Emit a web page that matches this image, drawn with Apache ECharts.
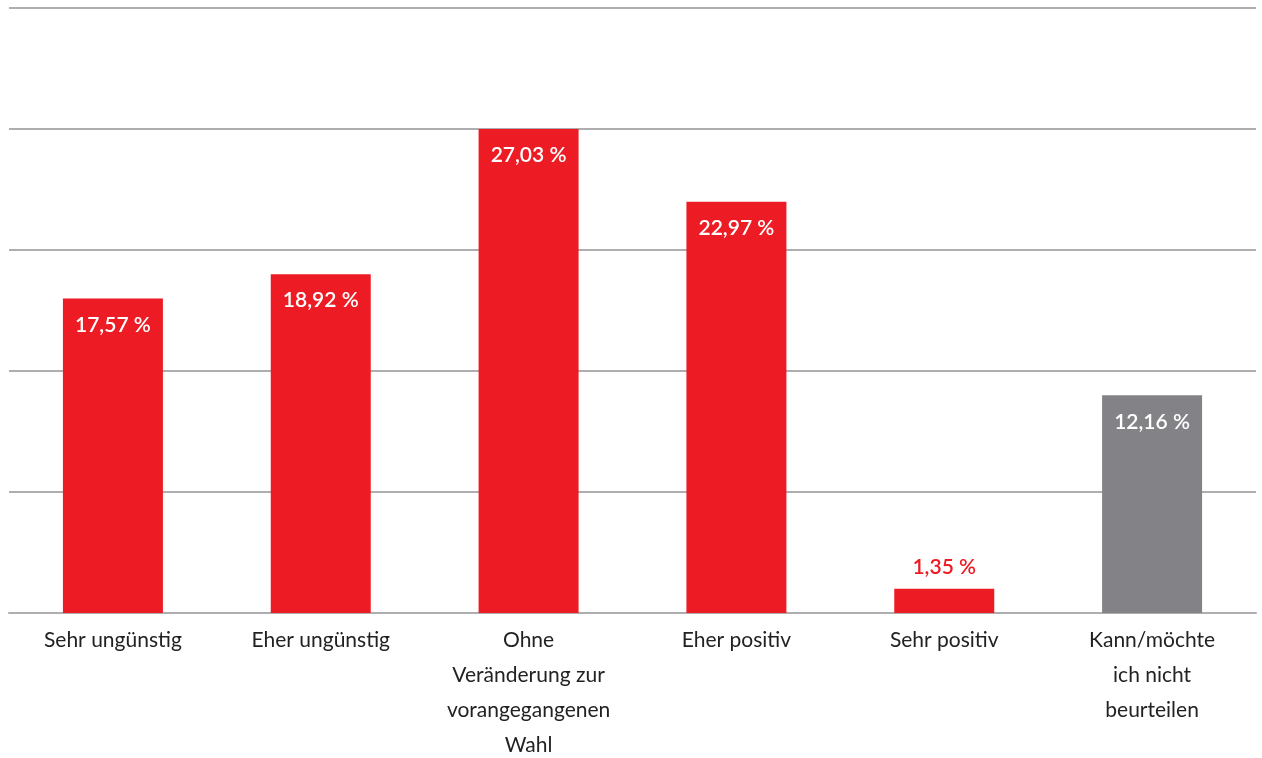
<!DOCTYPE html>
<html>
<head>
<meta charset="utf-8">
<style>
  html, body { margin: 0; padding: 0; background: #fff; }
  #chart { width: 1262px; height: 758px; }
</style>
<script src="https://cdn.jsdelivr.net/npm/echarts@6/dist/echarts.min.js"></script>
</head>
<body>
<div id="chart"></div>
<script>
const categories = [
  'Sehr ungünstig',
  'Eher ungünstig',
  'Ohne\nVeränderung zur\nvorangegangenen\nWahl',
  'Eher positiv',
  'Sehr positiv',
  'Kann/möchte\nich nicht\nbeurteilen'
]
const values = [17.57, 18.92, 27.03, 22.97, 1.35, 12.16]
// the last category ("cannot judge") is drawn in grey
const neutralIndex = 5

const axisMax = 33.7875
const axisStep = 6.7575

const RED = '#ed1c24'
const GREY = '#838387'
const LINE = '#aeaeb1'
const FONT = 'Lato, "Open Sans", sans-serif'

const fmt = v => v.toFixed(2).replace('.', ',') + ' %'

const chart = echarts.init(document.getElementById('chart'))

chart.setOption({
  animation: false,
  grid: { left: 9, right: 6, top: 8, bottom: 145, containLabel: false, outerBoundsMode: 'none' },
  xAxis: {
    type: 'category',
    data: categories,
    axisTick: { show: false },
    axisLine: { lineStyle: { color: LINE, width: 2 } },
    axisLabel: {
      interval: 0,
      margin: 10,
      color: '#222',
      fontFamily: FONT,
      fontSize: 21,
      lineHeight: 35
    }
  },
  yAxis: {
    type: 'value',
    min: 0,
    max: axisMax,
    interval: axisStep,
    axisLabel: { show: false },
    axisLine: { show: false },
    axisTick: { show: false },
    splitLine: { lineStyle: { color: LINE, width: 2 } }
  },
  series: [{
    type: 'bar',
    barWidth: 100,
    data: values.map((v, i) => {
      const small = v < 5
      return {
        value: v,
        itemStyle: { color: i === neutralIndex ? GREY : RED },
        label: {
          show: true,
          position: small ? 'top' : 'insideTop',
          distance: small ? 11 : 16,
          color: small ? RED : '#fff',
          fontFamily: FONT,
          fontSize: 21,
          fontWeight: 600,
          formatter: p => fmt(p.value)
        }
      }
    })
  }]
})
</script>
</body>
</html>
